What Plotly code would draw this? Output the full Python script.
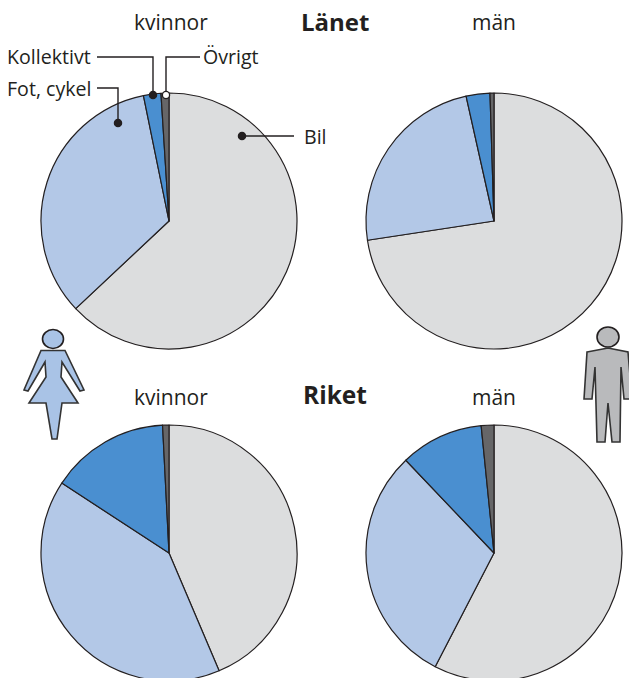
import plotly.graph_objects as go

W, H = 629, 681
FONT = "Open Sans"
INK = "#231f20"

modes = ["Bil", "Fot, cykel", "Kollektivt", "Övrigt"]
colors = ["#dcddde", "#b3c8e7", "#4a8fd0", "#666668"]
lan_kvinnor = [63.0, 33.8, 2.2, 1.0]
lan_man = [72.6, 23.9, 3.0, 0.5]
riket_kvinnor = [43.6, 40.6, 15.0, 0.8]
riket_man = [57.6, 30.3, 10.5, 1.6]

def px(x): return x / W
def py(y): return 1 - y / H

fig = go.Figure()
for name, vals, cx, cy in [
    ("Länet kvinnor", lan_kvinnor, 169, 221),
    ("Länet män", lan_man, 494, 221),
    ("Riket kvinnor", riket_kvinnor, 169, 553),
    ("Riket män", riket_man, 494, 553),
]:
    r = 128
    fig.add_trace(go.Pie(
        name=name, labels=modes, values=vals, sort=False, direction="clockwise", rotation=0,
        textinfo="none", hoverinfo="label+percent", showlegend=False,
        marker=dict(colors=colors, line=dict(color=INK, width=1.2)),
        domain=dict(x=[px(cx - r), px(cx + r)], y=[py(cy + r), py(cy - r)]),
    ))

shapes, ann = [], []

def poly(pts, close=False, **kw):
    d = "M" + " L".join(f"{px(x):.5f},{py(y):.5f}" for x, y in pts) + (" Z" if close else "")
    shapes.append(dict(type="path", xref="paper", yref="paper", path=d, **kw))

def oval(cx, cy, rx, ry, fill, lc=INK, lw=1.3):
    shapes.append(dict(type="circle", xref="paper", yref="paper",
                       x0=px(cx - rx), x1=px(cx + rx), y0=py(cy + ry), y1=py(cy - ry),
                       fillcolor=fill, line=dict(color=lc, width=lw)))

def text(s, x, y, size=19.6, anchor="left", bold=False):
    ann.append(dict(text=f"<b>{s}</b>" if bold else s, x=px(x), y=py(y), xref="paper", yref="paper",
                    xanchor=anchor, yanchor="middle", showarrow=False,
                    font=dict(family=FONT, size=size, color=INK)))

# leader lines
leader = dict(line=dict(color=INK, width=1.4))
poly([(97, 57), (153, 57), (153, 95)], **leader)
poly([(200, 57), (166, 57), (166, 95)], **leader)
poly([(97, 88), (118, 88), (118, 123)], **leader)
poly([(242, 136), (294, 136)], **leader)
oval(153, 95, 3.6, 3.6, INK)
oval(166, 95, 3.6, 3.6, "white")
oval(118, 123, 3.6, 3.6, INK)
oval(242, 136, 3.6, 3.6, INK)

# woman
oval(53, 339, 10.5, 9.5, "#a9c3e6", lw=1.6)
poly([(41, 350.5), (65, 350.5), (84, 390), (80, 391), (62, 362), (61, 377), (78, 403), (62, 403),
      (57, 439), (52, 439), (46, 403), (29, 403), (46, 377), (45, 362), (28, 391), (24, 390)],
     close=True, fillcolor="#a9c3e6", line=dict(color="#333", width=1.6))

# man
oval(608, 337, 11, 10, "#b9babc", lw=1.6)
poly([(587, 352), (608, 348), (628, 352), (632, 399), (624, 399), (621, 367), (620, 442), (612, 442),
      (608, 403), (605, 442), (597, 442), (595, 367), (592, 399), (584, 399)],
     close=True, fillcolor="#b9babc", line=dict(color="#333", width=1.6))

# texts
text("kvinnor", 170.5, 22, 21, "center")
text("män", 493.5, 22, 21, "center")
text("Länet", 335, 21, 24, "center", True)
text("kvinnor", 170.5, 397, 21, "center")
text("män", 493.5, 397, 21, "center")
text("Riket", 334.5, 395, 24.5, "center", True)
text("Kollektivt", 93, 57, anchor="right")
text("Fot, cykel", 94, 88, anchor="right")
text("Övrigt", 200.5, 57)
text("Bil", 302, 136)

fig.update_layout(width=W, height=H, margin=dict(l=0, r=0, t=0, b=0),
                  paper_bgcolor="white", shapes=shapes, annotations=ann,
                  font=dict(family=FONT, color=INK))
fig.write_html("out.html", config=dict(displayModeBar=False),
               post_script="document.documentElement.style.overflow='hidden';document.body.style.margin='0';document.body.style.overflow='hidden';")
